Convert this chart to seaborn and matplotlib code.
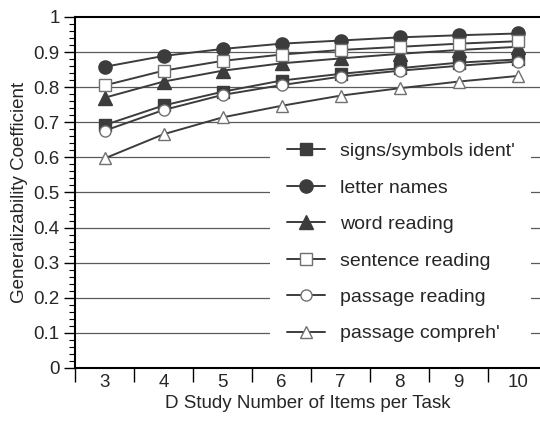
import matplotlib
matplotlib.use("Agg")

import matplotlib.pyplot as plt
from matplotlib.ticker import MultipleLocator, FixedLocator, NullFormatter
import seaborn as sns
import pandas as pd

items = [3, 4, 5, 6, 7, 8, 9, 10]

signs_symbols = [0.692, 0.748, 0.787, 0.819, 0.838, 0.854, 0.870, 0.879]
letter_names = [0.858, 0.889, 0.909, 0.924, 0.933, 0.942, 0.948, 0.953]
word_reading = [0.770, 0.816, 0.847, 0.868, 0.882, 0.895, 0.906, 0.915]
sentence_reading = [0.805, 0.847, 0.875, 0.893, 0.906, 0.915, 0.924, 0.931]
passage_reading = [0.676, 0.735, 0.778, 0.806, 0.830, 0.847, 0.861, 0.873]
passage_compreh = [0.597, 0.666, 0.714, 0.747, 0.776, 0.797, 0.816, 0.832]

labels = ["signs/symbols ident'", "letter names", "word reading",
          "sentence reading", "passage reading", "passage compreh'"]
series = [signs_symbols, letter_names, word_reading,
          sentence_reading, passage_reading, passage_compreh]

df = pd.DataFrame({
    "items": items * len(labels),
    "coef": [v for s in series for v in s],
    "task": [lab for lab in labels for _ in items],
})

sns.set_theme(style="white")
plt.rcParams["font.family"] = ["Liberation Sans", "DejaVu Sans"]

fig = plt.figure(figsize=(5.4, 4.25), dpi=100)
ax = fig.add_axes([75 / 540, 57 / 425, 465 / 540, 351 / 425])

dark = "#3c3c3c"
grey = "#707070"
styles = {
    "signs/symbols ident'": dict(marker="s", ms=8.5, mfc=dark, mec=dark),
    "letter names": dict(marker="o", ms=9.5, mfc=dark, mec=dark),
    "word reading": dict(marker="^", ms=9.5, mfc=dark, mec=dark),
    "sentence reading": dict(marker="s", ms=8, mfc="white", mec=grey),
    "passage reading": dict(marker="o", ms=8, mfc="white", mec=grey),
    "passage compreh'": dict(marker="^", ms=9, mfc="white", mec=grey),
}

# gridlines first so the legend patch can cover them
for v in [0.1, 0.2, 0.3, 0.4, 0.5, 0.6, 0.7, 0.8, 0.9]:
    ax.axhline(v, color="#5a5a5a", lw=0.9, zorder=0)

for lab in labels:
    st = styles[lab]
    sns.lineplot(data=df[df["task"] == lab], x="items", y="coef", ax=ax,
                 color=dark, lw=1.4, marker=st["marker"], markersize=st["ms"],
                 markerfacecolor=st["mfc"], markeredgecolor=st["mec"],
                 markeredgewidth=1.0, label=lab, zorder=3)

ax.set_xlim(2.5, 10.38)
ax.set_ylim(0, 1)

ax.xaxis.set_major_locator(FixedLocator([x - 0.5 for x in items]))
ax.xaxis.set_major_formatter(NullFormatter())
ax.set_xticks(items, minor=True)
ax.set_xticklabels([str(x) for x in items], minor=True)
ax.tick_params(axis="x", which="major", direction="out", length=10, width=1.0,
               color="black", bottom=True)
ax.tick_params(axis="x", which="minor", length=0, pad=4, labelsize=13.5)

ax.yaxis.set_minor_locator(MultipleLocator(0.02))
ax.set_yticks([i / 10 for i in range(11)])
ax.set_yticklabels(["0"] + [f"{i / 10:.1f}" for i in range(1, 10)] + ["1"])
ax.tick_params(axis="y", which="major", direction="out", length=8, width=1.0,
               color="black", left=True, labelsize=13.5, pad=3)
ax.tick_params(axis="y", which="minor", direction="out", length=4, width=0.8,
               color="black", left=True)

for side in ["left", "bottom", "top"]:
    ax.spines[side].set_color("black")
    ax.spines[side].set_linewidth(1.5)
ax.spines["right"].set_visible(False)

ax.set_xlabel("D Study Number of Items per Task", fontsize=13.5, labelpad=3)
ax.set_ylabel("Generalizability Coefficient", fontsize=13.5, labelpad=4)

leg = ax.legend(loc="upper left", bbox_to_anchor=(270 / 540, 1 - 126 / 425),
                bbox_transform=fig.transFigure, fontsize=14, frameon=True,
                fancybox=False, handlelength=2.0, handletextpad=0.75,
                labelspacing=0.97, borderpad=0.85, borderaxespad=0)
leg.get_frame().set_facecolor("white")
leg.get_frame().set_edgecolor("none")
leg.get_frame().set_alpha(1.0)
leg.set_zorder(2)

fig.savefig("out.png", dpi=100)
plt.close(fig)
